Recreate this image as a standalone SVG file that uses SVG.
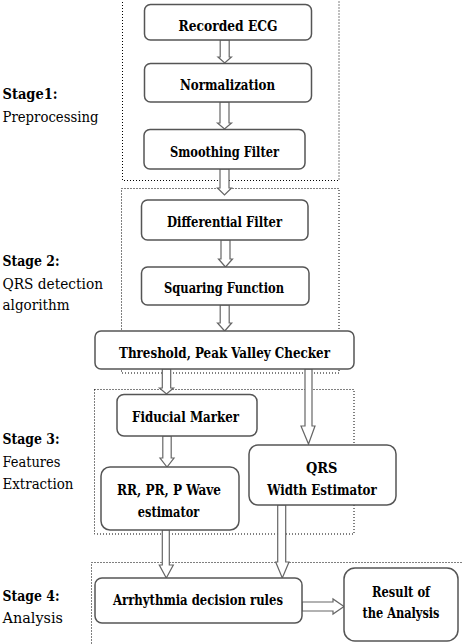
<svg xmlns="http://www.w3.org/2000/svg" width="463" height="644" viewBox="0 0 463 644">
<style>
.stage{fill:none;stroke:#000;stroke-width:1;stroke-dasharray:1 2}
.box{fill:#fff;stroke:#555;stroke-width:1.5}
.arr{fill:#fff;stroke:#666;stroke-width:1.2;stroke-linejoin:miter}
.t{font-weight:bold;font-size:14px;fill:#000;text-anchor:middle}
.sb{font-weight:bold;font-size:15.5px;fill:#000}
.sr{font-size:15.5px;fill:#000}
</style>
<rect width="463" height="644" fill="#fff"/>
<g id="stages">
<rect class="stage" x="122.5" y="-10" width="216.5" height="190.5"/>
<rect class="stage" x="121.5" y="188.5" width="217.5" height="184.5"/>
<rect class="stage" x="94.5" y="389.5" width="259.5" height="144.5"/>
<rect class="stage" x="91.5" y="562.5" width="380" height="100"/>
</g>
<g id="labels" font-family="DejaVu Serif Condensed, DejaVu Serif, serif" lengthAdjust="spacingAndGlyphs">
<text class="sb" x="2.5" y="99" textLength="55" lengthAdjust="spacingAndGlyphs">Stage1:</text>
<text class="sr" x="2.5" y="122" textLength="96" lengthAdjust="spacingAndGlyphs">Preprocessing</text>
<text class="sb" x="2.5" y="266" textLength="57" lengthAdjust="spacingAndGlyphs">Stage 2:</text>
<text class="sr" x="2.5" y="289" textLength="100.5" lengthAdjust="spacingAndGlyphs">QRS detection</text>
<text class="sr" x="2.5" y="310" textLength="67" lengthAdjust="spacingAndGlyphs">algorithm</text>
<text class="sb" x="2.5" y="444" textLength="57" lengthAdjust="spacingAndGlyphs">Stage 3:</text>
<text class="sr" x="2.5" y="467" textLength="58" lengthAdjust="spacingAndGlyphs">Features</text>
<text class="sr" x="2.5" y="489" textLength="71" lengthAdjust="spacingAndGlyphs">Extraction</text>
<text class="sb" x="2.5" y="601" textLength="57" lengthAdjust="spacingAndGlyphs">Stage 4:</text>
<text class="sr" x="2.5" y="623" textLength="60.5" lengthAdjust="spacingAndGlyphs">Analysis</text>
</g>
<g id="connectors">
<path class="arr" d="M220.2,40 V57 H218 L224.7,63 L231.4,57 H229.2 V40 Z"/>
<path class="arr" d="M220,102 V123 H217.5 L224.5,129 L231.5,123 H229 V102 Z"/>
<path class="arr" d="M220,169 V188 H217.5 L224.5,195 L231.5,188 H229 V169 Z"/>
<path class="arr" d="M221,240 V259 H218.5 L225.5,267 L232.5,259 H230 V240 Z"/>
<path class="arr" d="M220.2,305 V323 H217.5 L224.7,331 L231.7,323 H229.2 V305 Z"/>
<path class="arr" d="M162.3,369 V388 H159.5 L166.5,394 L173.5,388 H170.7 V369 Z"/>
<path class="arr" d="M305,369 V426 H301 L308.5,444 L315,426 H312 V369 Z"/>
<path class="arr" d="M162.8,436 V458 H160 L167,467 L174,458 H171.2 V436 Z"/>
<path class="arr" d="M162.3,530 V565 H159.3 L166.3,578 L173.3,565 H169.3 V530 Z"/>
<path class="arr" d="M277.7,505 V562 H275.7 L282.3,578 L289,562 H285.7 V505 Z"/>
<path class="arr" d="M302,602 H333 V599 L344,606.5 L333,614 V611 H302 Z"/>
</g>
<g id="nodes" font-family="DejaVu Serif Condensed, DejaVu Serif, serif">
<g id="recorded-ecg">
<rect class="box" x="144.5" y="4.5" width="167" height="35.5" rx="6"/>
<text class="t" x="228" y="31" textLength="99" lengthAdjust="spacingAndGlyphs">Recorded ECG</text>
</g>
<g id="normalization">
<rect class="box" x="144.5" y="63.5" width="167" height="38.5" rx="6"/>
<text class="t" x="227.5" y="90" textLength="95" lengthAdjust="spacingAndGlyphs">Normalization</text>
</g>
<g id="smoothing-filter">
<rect class="box" x="144" y="129.5" width="161" height="39.5" rx="6"/>
<text class="t" x="224.5" y="157" textLength="109" lengthAdjust="spacingAndGlyphs">Smoothing Filter</text>
</g>
<g id="differential-filter">
<rect class="box" x="141.5" y="200" width="166.5" height="40" rx="6"/>
<text class="t" x="224.5" y="227" textLength="115" lengthAdjust="spacingAndGlyphs">Differential Filter</text>
</g>
<g id="squaring-function">
<rect class="box" x="141.5" y="267" width="167.5" height="38" rx="6"/>
<text class="t" x="224" y="293" textLength="120" lengthAdjust="spacingAndGlyphs">Squaring Function</text>
</g>
<g id="threshold">
<rect class="box" x="95" y="331" width="259" height="38" rx="6"/>
<text class="t" x="224.5" y="358" textLength="211" lengthAdjust="spacingAndGlyphs">Threshold, Peak Valley Checker</text>
</g>
<g id="fiducial-marker">
<rect class="box" x="117" y="394.5" width="140" height="41.5" rx="7"/>
<text class="t" x="185.5" y="422" textLength="107" lengthAdjust="spacingAndGlyphs">Fiducial Marker</text>
</g>
<g id="rr-pr-p">
<rect class="box" x="101" y="467" width="138" height="63" rx="9"/>
<text class="t" x="169" y="495" textLength="104" lengthAdjust="spacingAndGlyphs">RR, PR, P Wave</text>
<text class="t" x="168.5" y="517" textLength="61.5" lengthAdjust="spacingAndGlyphs">estimator</text>
</g>
<g id="qrs-width">
<rect class="box" x="249" y="445" width="147" height="60" rx="9"/>
<text class="t" x="321.7" y="473" textLength="31.5" lengthAdjust="spacingAndGlyphs">QRS</text>
<text class="t" x="322" y="495" textLength="109.5" lengthAdjust="spacingAndGlyphs">Width Estimator</text>
</g>
<g id="arrhythmia">
<rect class="box" x="95" y="578" width="207" height="45" rx="7"/>
<text class="t" x="198" y="605" textLength="170" lengthAdjust="spacingAndGlyphs">Arrhythmia decision rules</text>
</g>
<g id="result">
<rect class="box" x="344" y="568" width="114" height="73" rx="11"/>
<text class="t" x="401" y="597" textLength="58" lengthAdjust="spacingAndGlyphs">Result of</text>
<text class="t" x="401" y="618" textLength="77" lengthAdjust="spacingAndGlyphs">the Analysis</text>
</g>
</g>
</svg>
